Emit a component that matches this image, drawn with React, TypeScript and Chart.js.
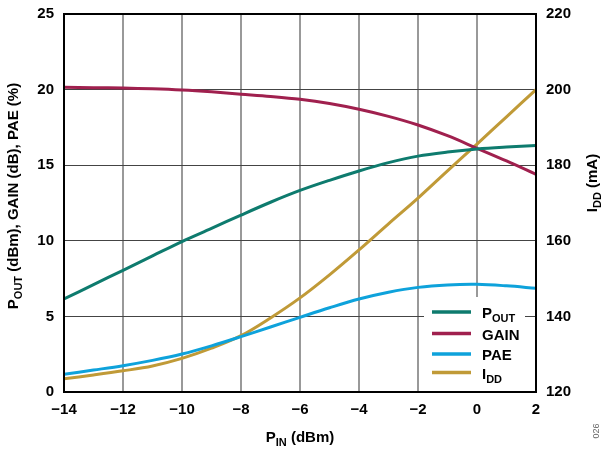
import React, { useEffect, useRef } from "react";
import { Chart, registerables } from "chart.js";
Chart.register(...registerables);

const pIn = [-14, -13, -12, -11, -10, -9, -8, -7, -6, -5, -4, -3, -2, -1, 0, 1, 2];
const pout = [6.15, 7.1, 8.05, 9.0, 9.95, 10.82, 11.7, 12.55, 13.33, 14.0, 14.62, 15.17, 15.6, 15.87, 16.07, 16.2, 16.3];
const gain = [20.15, 20.13, 20.1, 20.05, 19.97, 19.85, 19.7, 19.55, 19.36, 19.08, 18.7, 18.23, 17.66, 16.95, 16.12, 15.28, 14.4];
const pae = [1.17, 1.45, 1.74, 2.09, 2.51, 3.05, 3.66, 4.3, 4.94, 5.57, 6.15, 6.6, 6.92, 7.08, 7.12, 7.02, 6.86];
const idd = [123.5, 124.5, 125.6, 126.9, 128.9, 131.6, 134.9, 139.6, 144.9, 151, 157.6, 164.5, 171.3, 178.5, 185.6, 192.8, 200];

const leftTicks = [0, 25, 5];
const rightTicks = [120, 220, 20];
const xTicks = [-14, 2, 2];

const seriesNames: [string, string][] = [["P", "OUT"], ["GAIN", ""], ["PAE", ""], ["I", "DD"]];
const seriesColors = ["#0e7b6e", "#a0204e", "#0ea2db", "#c09a37"];

const FAM = "'Liberation Sans', Arial, Helvetica, sans-serif";

function drawParts(ctx: CanvasRenderingContext2D, parts: [string, boolean][], x: number, y: number, align: "left" | "center") {
  const big = `bold 15px ${FAM}`;
  const small = `bold 11px ${FAM}`;
  let total = 0;
  for (const [t, sub] of parts) {
    ctx.font = sub ? small : big;
    total += ctx.measureText(t).width;
  }
  let cx = align === "center" ? x - total / 2 : x;
  ctx.textAlign = "left";
  ctx.textBaseline = "alphabetic";
  for (const [t, sub] of parts) {
    ctx.font = sub ? small : big;
    ctx.fillText(t, cx, sub ? y + 4 : y);
    cx += ctx.measureText(t).width;
  }
}

export default function App() {
  const ref = useRef<HTMLCanvasElement>(null);
  useEffect(() => {
    const canvas = ref.current!;
    const fmt = (v: number) => (v < 0 ? "\u2212" + Math.abs(v) : String(v));
    const tickFont = { family: FAM, size: 15, weight: "bold" as const };

    const overlay = {
      id: "overlay",
      afterDatasetsDraw(chart: any) {
        const ctx: CanvasRenderingContext2D = chart.ctx;
        const a = chart.chartArea;
        ctx.save();
        // legend box
        ctx.fillStyle = "#fff";
        ctx.fillRect(424, 297, a.right - 11 - 424, a.bottom - 1 - 297);
        const rows = [312, 333.5, 354, 372.5];
        for (let i = 0; i < 4; i++) {
          ctx.strokeStyle = seriesColors[i];
          ctx.lineWidth = 3.5;
          ctx.beginPath();
          ctx.moveTo(432, rows[i]);
          ctx.lineTo(471, rows[i]);
          ctx.stroke();
          ctx.fillStyle = "#000";
          const [main, sub] = seriesNames[i];
          const parts: [string, boolean][] = [[main, false]];
          if (sub) parts.push([sub, true]);
          drawParts(ctx, parts, 482, rows[i] + 6, "left");
        }
        // frame
        ctx.strokeStyle = "#000";
        ctx.lineWidth = 2;
        ctx.strokeRect(a.left, a.top, a.right - a.left, a.bottom - a.top);
        // axis titles
        ctx.fillStyle = "#000";
        drawParts(ctx, [["P", false], ["IN", true], [" (dBm)", false]], (a.left + a.right) / 2, 442, "center");
        ctx.save();
        ctx.translate(18, 196);
        ctx.rotate(-Math.PI / 2);
        drawParts(ctx, [["P", false], ["OUT", true], [" (dBm), GAIN (dB), PAE (%)", false]], 0, 0, "center");
        ctx.restore();
        ctx.save();
        ctx.translate(597, 183);
        ctx.rotate(-Math.PI / 2);
        drawParts(ctx, [["I", false], ["DD", true], [" (mA)", false]], 0, 0, "center");
        ctx.restore();
        ctx.save();
        ctx.translate(599, 431);
        ctx.rotate(-Math.PI / 2);
        ctx.fillStyle = "#666";
        ctx.font = `9px ${FAM}`;
        ctx.textAlign = "center";
        ctx.textBaseline = "alphabetic";
        ctx.fillText("026", 0, 0);
        ctx.restore();
        ctx.restore();
      },
    };

    const mk = (label: string, arr: number[], i: number, axis: string) => ({
      label,
      data: pIn.map((x, k) => ({ x, y: arr[k] })),
      borderColor: seriesColors[i],
      backgroundColor: seriesColors[i],
      borderWidth: 3,
      pointRadius: 0,
      tension: 0.35,
      yAxisID: axis,
      fill: false,
    });

    const fitY = (w: number) => (s: any) => {
      s.width = w;
      s.paddingTop = 0;
      s.paddingBottom = 0;
    };

    const chart = new Chart(canvas, {
      type: "line",
      data: {
        datasets: [
          mk("POUT", pout, 0, "y"),
          mk("GAIN", gain, 1, "y"),
          mk("PAE", pae, 2, "y"),
          mk("IDD", idd, 3, "y1"),
        ],
      },
      options: {
        responsive: false,
        animation: false,
        devicePixelRatio: 1,
        layout: { autoPadding: false, padding: { top: 14, left: 0, right: 0, bottom: 0 } },
        plugins: { legend: { display: false }, tooltip: { enabled: false } },
        scales: {
          x: {
            type: "linear",
            min: xTicks[0],
            max: xTicks[1],
            ticks: { stepSize: xTicks[2], padding: 9, font: tickFont, color: "#000", callback: (v: any) => fmt(Number(v)) },
            grid: { color: "#999", lineWidth: 2, drawTicks: false },
            border: { display: false },
            afterFit(s: any) { s.height = 57; s.paddingLeft = 0; s.paddingRight = 0; },
          },
          y: {
            position: "left",
            min: leftTicks[0],
            max: leftTicks[1],
            ticks: { stepSize: leftTicks[2], padding: 10, font: tickFont, color: "#000" },
            grid: { color: "#444", lineWidth: 1, drawTicks: false },
            border: { display: false },
            afterFit: fitY(64),
          },
          y1: {
            position: "right",
            min: rightTicks[0],
            max: rightTicks[1],
            ticks: { stepSize: rightTicks[2], padding: 10, font: tickFont, color: "#000" },
            grid: { display: false, drawTicks: false },
            border: { display: false },
            afterFit: fitY(66),
          },
        },
      } as any,
      plugins: [overlay],
    });
    return () => chart.destroy();
  }, []);
  return (
    <div style={{ position: "fixed", left: 0, top: 0, width: 602, height: 449, background: "#fff" }}>
      <canvas ref={ref} width={602} height={449} style={{ display: "block", width: 602, height: 449 }} />
    </div>
  );
}
